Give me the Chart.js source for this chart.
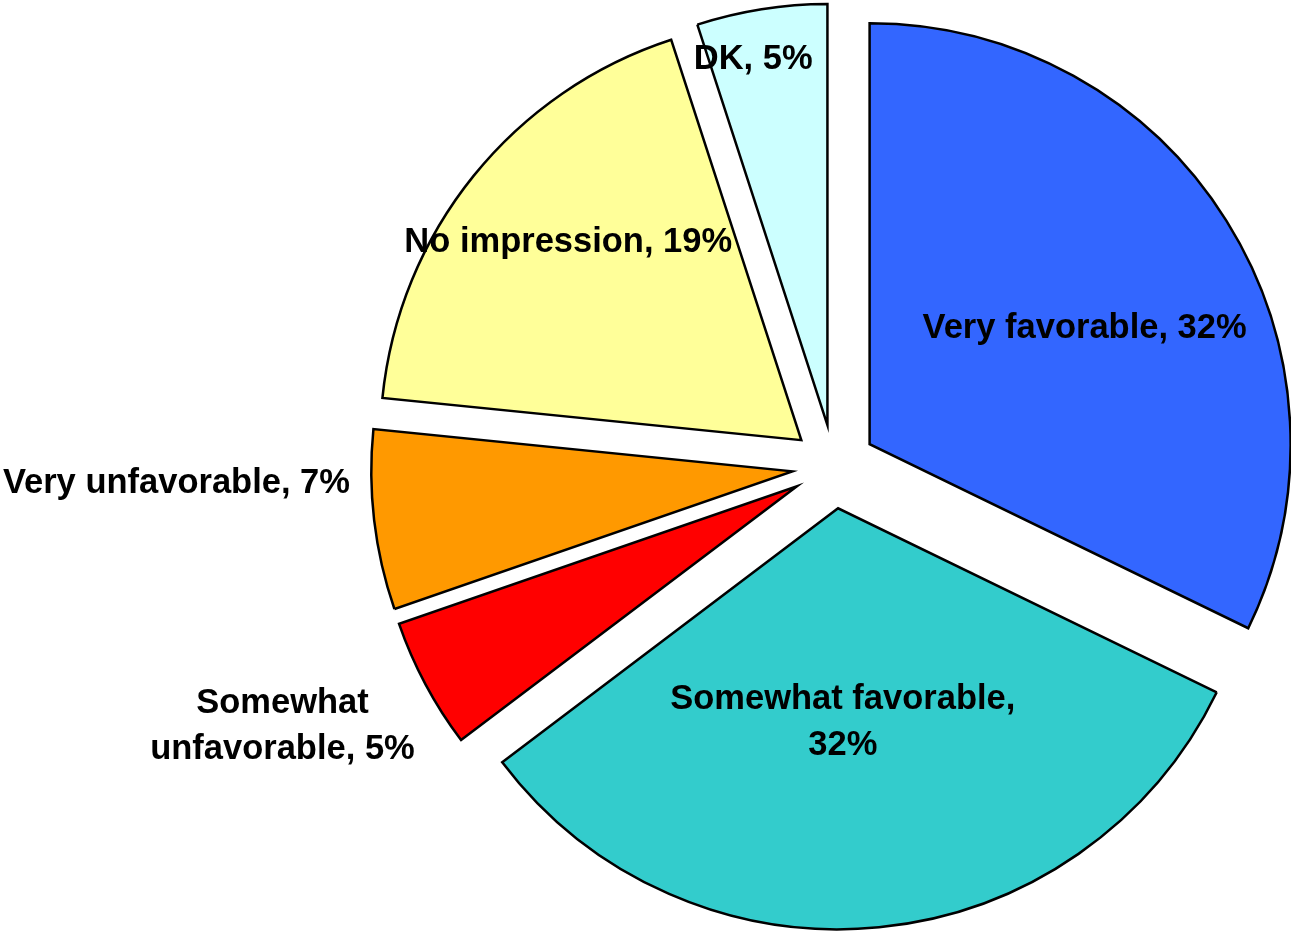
<!DOCTYPE html>
<html>
<head>
<meta charset="utf-8">
<script src="https://cdn.jsdelivr.net/npm/chart.js@4/dist/chart.umd.min.js"></script>
<style>
  html, body { margin: 0; padding: 0; background: #fff; }
  #wrap { width: 1291px; height: 931px; }
</style>
</head>
<body>
<div id="wrap"><canvas id="pie"></canvas></div>
<script>
const categories = ['Very favorable', 'Somewhat favorable', 'Somewhat unfavorable', 'Very unfavorable', 'No impression', 'DK'];
const shares = [32.2, 32.5, 5.0, 6.9, 18.4, 5.0];
const shownPct = ['32%', '32%', '5%', '7%', '19%', '5%'];
const colors = ['#3366FF', '#33CCCC', '#FF0000', '#FF9900', '#FFFF99', '#CCFFFF'];

// how many words go on the first label line (0 = one line)
const firstLineWords = [0, 2, 1, 0, 0, 0];
// label spot per slice: [turn from mid angle in degrees, distance as share of radius]
const labelSpot = [[3.2, 0.583], [4.3, 0.502], [3.3, 1.346], [5.8, 1.463], [1.8, 0.730], [-2.4, 0.892]];

function labelLines(i) {
  const words = (categories[i] + ', ' + shownPct[i]).split(' ');
  const n = firstLineWords[i];
  if (!n) return [words.join(' ')];
  return [words.slice(0, n).join(' '), words.slice(n).join(' ')];
}

// push every slice out from the centre along its own middle angle
const explode = {
  id: 'explode',
  afterDatasetsUpdate(chart, args, opts) {
    chart.getDatasetMeta(0).data.forEach(arc => {
      const mid = (arc.startAngle + arc.endAngle) / 2;
      arc.x += Math.cos(mid) * opts.distance;
      arc.y += Math.sin(mid) * opts.distance;
    });
  }
};

const sliceLabels = {
  id: 'sliceLabels',
  afterDatasetsDraw(chart) {
    const ctx = chart.ctx;
    ctx.save();
    ctx.font = 'bold 34.5px "Liberation Sans", Arial, sans-serif';
    ctx.fillStyle = '#000';
    ctx.textAlign = 'center';
    ctx.textBaseline = 'alphabetic';
    chart.getDatasetMeta(0).data.forEach((arc, i) => {
      const [turn, dist] = labelSpot[i];
      const a = (arc.startAngle + arc.endAngle) / 2 + turn * Math.PI / 180;
      const cx = arc.x + Math.cos(a) * arc.outerRadius * dist;
      const cy = arc.y + Math.sin(a) * arc.outerRadius * dist;
      const lines = labelLines(i);
      lines.forEach((t, k) => {
        ctx.fillText(t, cx, cy + (k - (lines.length - 1) / 2) * 46 + 12);
      });
    });
    ctx.restore();
  }
};

new Chart(document.getElementById('pie'), {
  type: 'pie',
  data: {
    labels: categories,
    datasets: [{
      data: shares,
      backgroundColor: colors,
      borderColor: '#000',
      borderWidth: 2.5,
      borderJoinStyle: 'miter'
    }]
  },
  options: {
    responsive: true,
    maintainAspectRatio: false,
    animation: false,
    events: [],
    radius: 421,
    layout: { padding: { left: 377, top: 2 } },
    plugins: {
      legend: { display: false },
      tooltip: { enabled: false },
      explode: { distance: 42 }
    }
  },
  plugins: [explode, sliceLabels]
});
</script>
</body>
</html>
